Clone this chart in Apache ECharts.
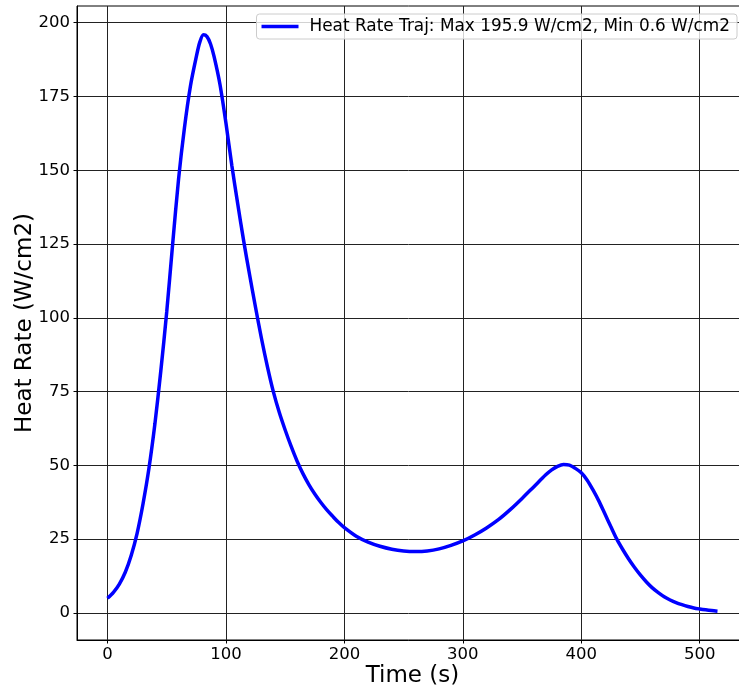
<!DOCTYPE html>
<html>
<head>
<meta charset="utf-8">
<script src="https://cdn.jsdelivr.net/npm/echarts@6/dist/echarts.min.js"></script>
<style>html,body{margin:0;padding:0;background:#fff}#c{width:739px;height:690px}</style>
</head>
<body>
<div id="c"></div>
<script>
const times = [0,5,10,15,20,25,30,35,40,45,50,55,60,65,70,75,78,81,84,87,90,95,100,105,110,115,120,125,130,135,140,145,150,155,160,165,170,175,180,185,190,195,200,210,220,230,240,250,260,270,280,290,300,310,320,330,340,350,360,370,375,380,385,390,395,400,405,410,415,420,425,430,435,440,445,450,455,460,465,470,475,480,485,490,495,500,505,510,515];
const heatRate = [5.0,7.0,9.8,13.8,19.5,27,37,49,64,82,102,125,147,164.5,178.5,188.5,193.5,195.9,195.3,192.8,188.5,179,166,151.5,138.5,126,114.5,103.5,93,83.5,75,68,62,56.5,51.5,47.2,43.5,40.3,37.5,35,32.8,30.7,28.9,26,24,22.6,21.6,21,20.8,21,21.7,22.9,24.4,26.4,28.8,31.6,35,38.8,42.8,46.8,48.5,49.7,50.3,50.1,49,47.5,45,41.6,37.8,33.5,29.2,25,21.5,18.3,15.4,12.8,10.5,8.5,6.9,5.5,4.4,3.5,2.8,2.2,1.7,1.35,1.05,0.8,0.6];
const xTicks = [0,100,200,300,400,500];
const yTicks = [0,25,50,75,100,125,150,175,200];
const seriesName = 'Heat Rate Traj: Max 195.9 W/cm2, Min 0.6 W/cm2';
const xName = 'Time (s)';
const yName = 'Heat Rate (W/cm2)';

const data = times.map((t, i) => [t, heatRate[i]]);
const font = 'DejaVu Sans';
const chart = echarts.init(document.getElementById('c'), null, {renderer: 'canvas'});
chart.setOption({
  animation: false,
  backgroundColor: '#fff',
  textStyle: {fontFamily: font},
  grid: {left: 77, top: 6, bottom: 50, right: -9, show: true, borderColor: '#000', borderWidth: 1, containLabel: false, outerBoundsMode: 'none'},
  legend: {
    right: 2, top: 14,
    padding: [4, 7, 4, 5],
    backgroundColor: 'rgba(255,255,255,0.8)',
    borderColor: '#cccccc', borderWidth: 1, borderRadius: 3,
    itemWidth: 37, itemHeight: 3.5,
    icon: 'rect',
    textStyle: {fontFamily: font, fontSize: 16.9, color: '#000', padding: [0, 0, 0, 6]},
    data: [{name: seriesName, icon: 'rect', itemStyle: {color: '#0000ff'}}]
  },
  xAxis: {
    type: 'value', min: -25.75, max: 540.75,
    name: xName, nameLocation: 'middle', nameGap: 25, nameMoveOverlap: false,
    nameTextStyle: {fontFamily: font, fontSize: 23, color: '#000'},
    axisLine: {show: true, onZero: false, lineStyle: {color: '#000', width: 1}},
    axisTick: {show: true, length: 3.5, lineStyle: {color: '#000'}, customValues: xTicks},
    axisLabel: {customValues: xTicks, margin: 6, fontFamily: font, fontSize: 16.5, color: '#000'},
    splitLine: {show: true, lineStyle: {color: '#222', width: 1}}
  },
  yAxis: {
    type: 'value', min: -9.165, max: 205.665,
    name: yName, nameLocation: 'middle', nameGap: 40, nameMoveOverlap: false,
    nameTextStyle: {fontFamily: font, fontSize: 23, color: '#000'},
    axisLine: {show: true, onZero: false, lineStyle: {color: '#000', width: 1}},
    axisTick: {show: true, length: 3.5, lineStyle: {color: '#000'}, customValues: yTicks},
    axisLabel: {customValues: yTicks, margin: 7, fontFamily: font, fontSize: 16.5, color: '#000'},
    splitLine: {show: true, lineStyle: {color: '#222', width: 1}}
  },
  series: [{
    name: seriesName, type: 'line', data: data,
    showSymbol: false, smooth: 0.3,
    lineStyle: {color: '#0000ff', width: 3.5},
    itemStyle: {color: '#0000ff'}
  }]
});
</script>
</body>
</html>
